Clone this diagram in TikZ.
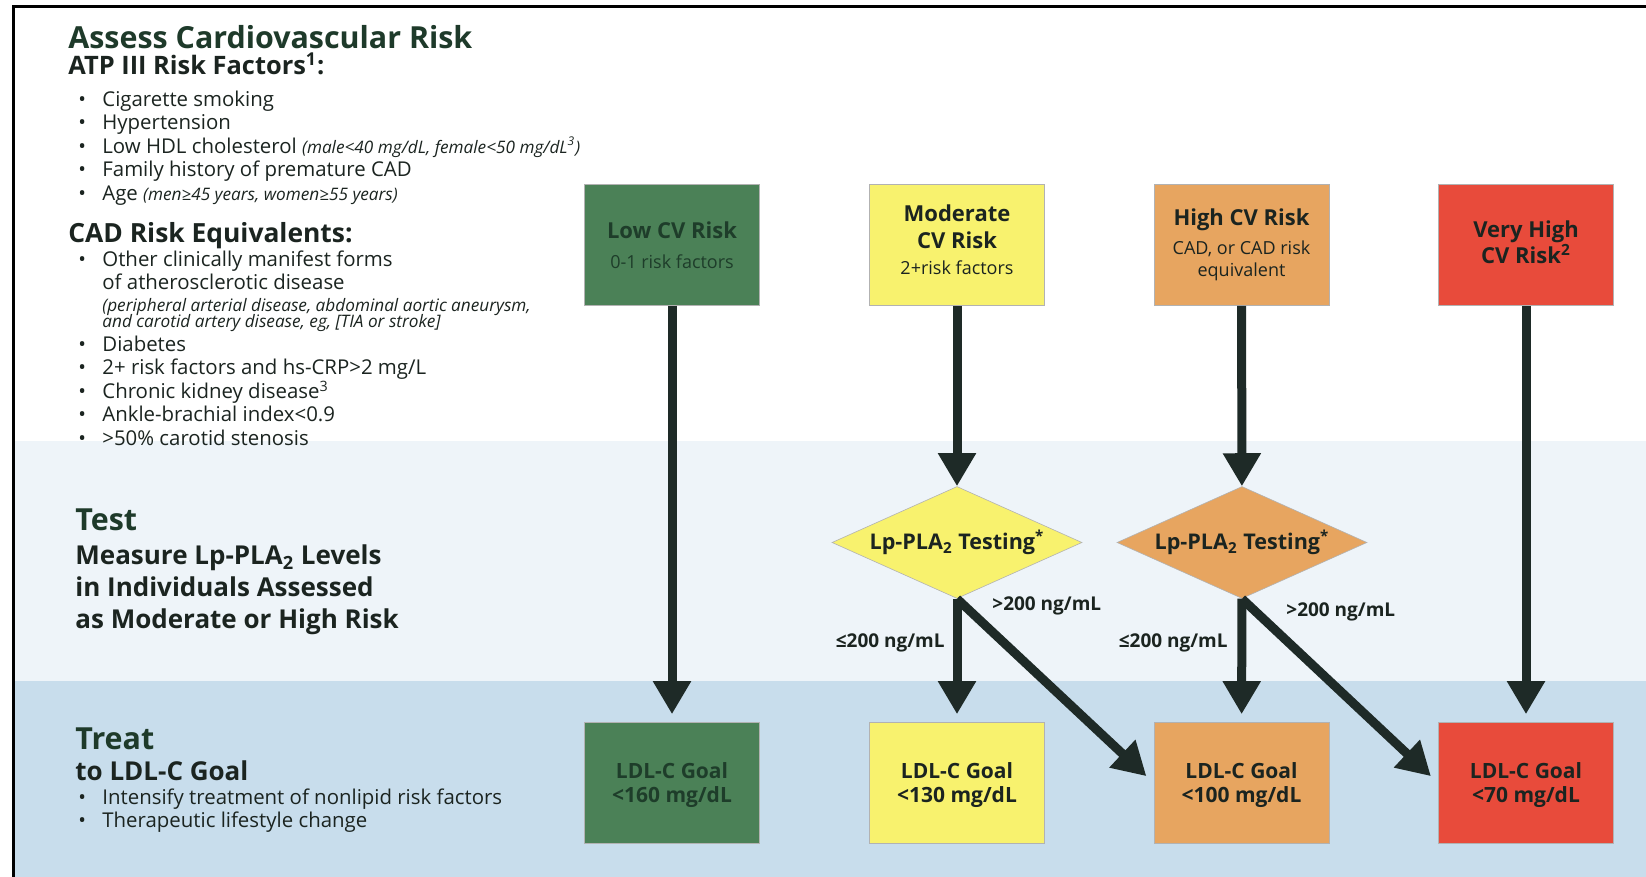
\documentclass[tikz,border=0pt]{standalone}
\usepackage{fontspec}
\setmainfont{Open Sans}
\usetikzlibrary{shapes.geometric,arrows.meta}
\definecolor{ink}{HTML}{1B2420}
\definecolor{titlegreen}{HTML}{1E3A2A}
\definecolor{arrowc}{HTML}{1E2A27}
\definecolor{lowg}{HTML}{4B8157}
\definecolor{lowtext}{HTML}{1E3D2A}
\definecolor{yel}{HTML}{F8F26E}
\definecolor{org}{HTML}{E7A560}
\definecolor{redb}{HTML}{E84B3B}
\definecolor{bandA}{HTML}{EEF4F9}
\definecolor{bandB}{HTML}{C8DDEC}
\newcommand{\itnote}{\itshape\fontsize{8.6}{10}\selectfont}
\newcommand{\bxtitle}{\bfseries\fontsize{11}{11}\selectfont}
\newcommand{\bitem}[3]{\node[plain] (#1) at (78,#2) {\makebox[12pt][l]{\textbullet}#3};}
\tikzset{
 riskbox/.style={rectangle, draw=black!30, line width=0.3pt, minimum width=87.5pt, minimum height=60.5pt, inner sep=0pt, align=center, text=ink, font=\fontsize{9}{11}\selectfont},
 goalbox/.style={riskbox, text depth=-3.4pt, font=\bfseries\fontsize{10.5}{11}\selectfont},
 decide/.style={diamond, aspect=2.23, minimum width=125pt, minimum height=56pt, inner sep=0pt, draw=black!30, line width=0.3pt, text=ink, font=\bfseries\fontsize{10.8}{12}\selectfont},
 flow/.style={draw=arrowc, line width=4.5pt, -{Triangle[width=18pt,length=16.5pt]}},
 plain/.style={inner sep=0pt, text=ink, anchor=mid west, font=\fontsize{10.2}{12}\selectfont},
 heavy/.style={inner sep=0pt, text=titlegreen, anchor=mid west, text depth=0pt, font=\bfseries\fontsize{15.2}{17}\selectfont},
 head/.style={inner sep=0pt, text=ink, anchor=mid west, font=\bfseries\fontsize{13.2}{15}\selectfont},
 head2/.style={inner sep=0pt, text=ink, anchor=mid west, font=\bfseries\fontsize{13}{15}\selectfont},
 lbl/.style={inner sep=0pt, text=ink, font=\bfseries\fontsize{9.5}{11}\selectfont},
}
\begin{document}
\begin{tikzpicture}[x=0.5pt,y=-0.5pt]
\useasboundingbox (0,0) rectangle (1646,877);
\fill[white] (0,0) rectangle (1646,877);
\fill[bandA] (13,441) rectangle (1646,681);
\fill[bandB] (13,681) rectangle (1646,877);
\draw[line width=1.5pt] (13,877) -- (13,7) -- (1646,7);

% left texts
\node[heavy] (assess) at (68,43.5) {Assess Cardiovascular Risk};
\node[head, text height=9.5pt, font=\bfseries\fontsize{12.7}{15}\selectfont] (atp) at (68,69) {ATP III Risk Factors\textsuperscript{1}:};
\bitem{r1}{101.5}{Cigarette smoking}
\bitem{r2}{124.5}{Hypertension}
\bitem{r3}{148}{Low HDL cholesterol {\itnote (male<40 mg/dL, female<50 mg/dL\textsuperscript{3})}}
\bitem{r4}{171.5}{Family history of premature CAD}
\bitem{r5}{195.5}{Age {\itnote (men≥45 years, women≥55 years)}}
\node[head] (cad) at (68,237) {CAD Risk Equivalents:};
\bitem{e1}{261.5}{Other clinically manifest forms}
\node[plain] (e1b) at (102,284.5) {of atherosclerotic disease};
\node[plain, font=\itnote] (e1c) at (102,306) {(peripheral arterial disease, abdominal aortic aneurysm,};
\node[plain, font=\itnote] (e1d) at (102,322) {and carotid artery disease, eg, [TIA or stroke]};
\bitem{e2}{346}{Diabetes}
\bitem{e3}{369.5}{2+ risk factors and hs-CRP>2 mg/L}
\bitem{e4}{393}{Chronic kidney disease\textsuperscript{3}}
\bitem{e5}{416.5}{Ankle-brachial index<0.9}
\bitem{e6}{440}{>50\% carotid stenosis}
\node[heavy] (test) at (75,525) {Test};
\node[head2] (m1) at (75,559) {Measure Lp-PLA\textsubscript{2} Levels};
\node[head2] (m2) at (75,591) {in Individuals Assessed};
\node[head2] (m3) at (75,623) {as Moderate or High Risk};
\node[heavy] (treat) at (75,744) {Treat};
\node[head2] (t1) at (75,775) {to LDL-C Goal};
\bitem{t2}{799}{Intensify treatment of nonlipid risk factors}
\bitem{t3}{822.5}{Therapeutic lifestyle change}

% risk boxes
\node[riskbox, fill=lowg, text=lowtext] (low) at (672,245) {{\bxtitle Low CV Risk}\\[4pt]0-1 risk factors};
\node[riskbox, fill=yel, text depth=5pt] (mod) at (957,245) {{\bxtitle Moderate}\\[2.3pt]{\bxtitle CV Risk}\\[2.3pt]2+risk factors};
\node[riskbox, fill=org] (high) at (1241.5,245) {{\bxtitle High CV Risk}\\[3.5pt]CAD, or CAD risk\\equivalent};
\node[riskbox, fill=redb, text depth=3pt] (vhigh) at (1526,245) {{\bxtitle Very High}\\{\bxtitle CV Risk\textsuperscript{2}}};

% decisions
\node[decide, fill=yel] (dmod) at (957,542.5) {Lp-PLA\textsubscript{2} Testing\textsuperscript{*}};
\node[decide, fill=org] (dhigh) at (1242,542.5) {Lp-PLA\textsubscript{2} Testing\textsuperscript{*}};

% goal boxes
\node[goalbox, fill=lowg, text=lowtext] (glow) at (672,783) {LDL-C Goal\\[1pt]<160 mg/dL};
\node[goalbox, fill=yel] (gmod) at (957,783) {LDL-C Goal\\[1pt]<130 mg/dL};
\node[goalbox, fill=org] (ghigh) at (1241.5,783) {LDL-C Goal\\[1pt]<100 mg/dL};
\node[goalbox, fill=redb] (gvh) at (1526,783) {LDL-C Goal\\[1pt]<70 mg/dL};

% arrows
\draw[flow, shorten >=4pt] (low) -- (glow);
\draw[flow] (mod) -- (dmod);
\draw[flow, shorten >=4pt] (dmod) -- (gmod);
\draw[flow, shorten >=5pt] (dmod.south) -- (ghigh.west);
\draw[flow] (high) -- (dhigh);
\draw[flow, shorten >=4pt] (dhigh) -- (ghigh);
\draw[flow, shorten >=5pt] (dhigh.south) -- (gvh.west);
\draw[flow, shorten >=4pt] (vhigh) -- (gvh);

% labels
\node[lbl, anchor=east] (le1) at (945,643) {≤200 ng/mL};
\node[lbl, anchor=west] (gt1) at (992,606) {>200 ng/mL};
\node[lbl, anchor=east] (le2) at (1228,643) {≤200 ng/mL};
\node[lbl, anchor=west] (gt2) at (1286,612) {>200 ng/mL};
\end{tikzpicture}
\end{document}
